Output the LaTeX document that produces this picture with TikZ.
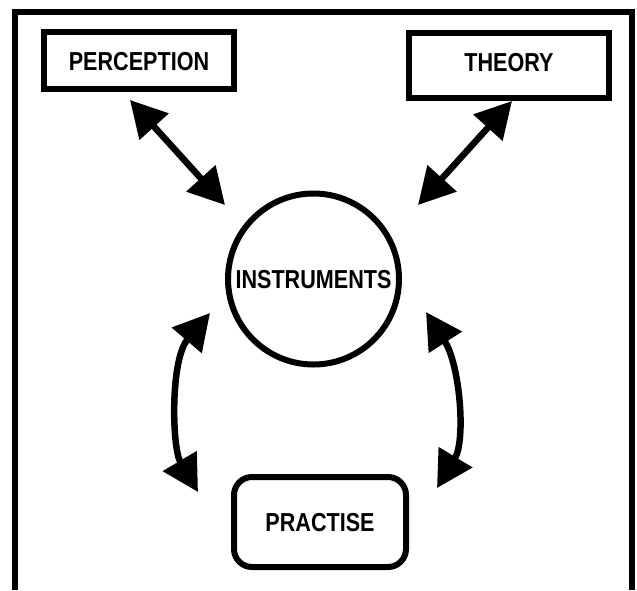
\documentclass[tikz,border=0pt]{standalone}
\usepackage{fontspec}
\newfontfamily\lbl[FakeStretch=0.83]{Liberation Sans}
\usetikzlibrary{arrows.meta}
\tikzset{
  lab/.style={font=\lbl\bfseries\fontsize{26}{30}\selectfont, inner sep=0pt, text height=19pt, text depth=0pt},
  sqbox/.style={lab, draw, line width=6pt},
  rbox/.style={lab, draw, line width=6pt, rounded corners=18pt},
  cbox/.style={lab, draw, circle, line width=6pt},
  biarrow/.style={line width=6.5pt, {Triangle[length=36pt,width=38pt]}-{Triangle[length=36pt,width=38pt]}},
  frameline/.style={line width=6pt}
}
\begin{document}
\begin{tikzpicture}[x=1pt,y=-1pt]
\useasboundingbox (0,0) rectangle (637,590);
% frame
\coordinate (f1) at (14.5,590);
\coordinate (f2) at (14.5,12);
\coordinate (f3) at (632,12);
\coordinate (f4) at (632,590);
\draw[frameline] (f1) -- (f2) -- (f3) -- (f4);
% nodes
\node[sqbox, minimum width=190pt, minimum height=57pt] (perc) at (139,60.5) {PERCEPTION};
\node[sqbox, minimum width=200pt, minimum height=65pt, text depth=7pt] (theo) at (509,65) {THEORY};
\node[cbox, minimum size=171pt] (inst) at (313.5,279) {INSTRUMENTS};
\node[rbox, minimum width=172pt, minimum height=90pt] (prac) at (320,522) {PRACTISE};
% arrow end points
\coordinate (pa) at (130,100);
\coordinate (pb) at (225,205);
\coordinate (ta) at (512,101);
\coordinate (tb) at (418,205);
\coordinate (la) at (210,313);
\coordinate (lb) at (198,492);
\coordinate (ra) at (426,312);
\coordinate (rb) at (437,488);
% connectors
\draw[biarrow] (pa) -- (pb);
\draw[biarrow] (ta) -- (tb);
\draw[biarrow] (la) .. controls (170,360) and (172,448) .. (lb);
\draw[biarrow] (ra) .. controls (460,365) and (466,440) .. (rb);
\end{tikzpicture}
\end{document}
